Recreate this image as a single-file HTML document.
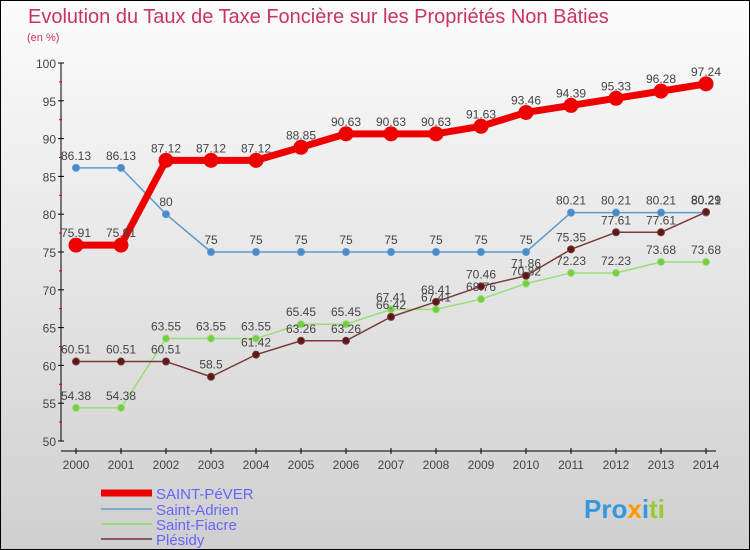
<!DOCTYPE html>
<html><head><meta charset="utf-8"><style>
body{margin:0;}
#c{width:750px;height:550px;position:relative;background:linear-gradient(#fcfcfc,#cfcfcf);border:1px solid #000;box-sizing:border-box;font-family:"Liberation Sans",sans-serif;overflow:hidden}
svg text{font-family:"Liberation Sans",sans-serif}
</style></head><body>
<div id="c">
<svg id="s" width="750" height="550">
<text x="27" y="22" font-size="20" fill="#c8336a">Evolution du Taux de Taxe Foncière sur les Propriétés Non Bâties</text>
<text x="26" y="40" font-size="11" fill="#c8336a">(en %)</text>
<g id="ax"></g><g id="ser"></g>
<g>
<line x1="100" y1="492" x2="151" y2="492" stroke="#e00" stroke-width="7"/>
<text x="155" y="498" font-size="15" fill="#6666ff">SAINT-PéVER</text>
<line x1="100" y1="508" x2="151" y2="508" stroke="#7aaad0" stroke-width="2"/>
<text x="155" y="514" font-size="15" fill="#6666ff">Saint-Adrien</text>
<line x1="100" y1="523" x2="151" y2="523" stroke="#99dd77" stroke-width="2"/>
<text x="155" y="529" font-size="15" fill="#6666ff">Saint-Fiacre</text>
<line x1="100" y1="538" x2="151" y2="538" stroke="#8a5a5a" stroke-width="2"/>
<text x="155" y="544" font-size="15" fill="#6666ff">Plésidy</text>
</g>
<text x="583" y="517" font-size="26" font-weight="bold" fill="#3399dd">Pro<tspan fill="#ff9900">x</tspan>i<tspan fill="#99cc33">ti</tspan></text>
</svg></div>
<script>
const years=[2000,2001,2002,2003,2004,2005,2006,2007,2008,2009,2010,2011,2012,2013,2014];
const yTicks=[50,55,60,65,70,75,80,85,90,95,100];
const pever=[75.91,75.91,87.12,87.12,87.12,88.85,90.63,90.63,90.63,91.63,93.46,94.39,95.33,96.28,97.24];
const adrien=[86.13,86.13,80,75,75,75,75,75,75,75,75,80.21,80.21,80.21,80.21];
const fiacre=[54.38,54.38,63.55,63.55,63.55,65.45,65.45,67.41,67.41,68.76,70.82,72.23,72.23,73.68,73.68];
const plesidy=[60.51,60.51,60.51,58.5,61.42,63.26,63.26,66.42,68.41,70.46,71.86,75.35,77.61,77.61,80.29];
const NS='http://www.w3.org/2000/svg';
const X=i=>75+i*45, Y=v=>440-(v-50)*7.56;
function mk(t,a,p){const e=document.createElementNS(NS,t);for(const k in a)e.setAttribute(k,a[k]);p.appendChild(e);return e;}
const ax=document.getElementById('ax'),ser=document.getElementById('ser');
let l=mk('line',{x1:60,y1:Y(100),x2:60,y2:Y(50),stroke:'#000'},ax);


l=mk('line',{x1:60,y1:450,x2:715,y2:450,stroke:'#000'},ax);


yTicks.forEach(v=>{mk('line',{x1:57,y1:Y(v),x2:63,y2:Y(v),stroke:'#000'},ax);
 if(v<100)mk('line',{x1:58,y1:Y(v+2.5),x2:61,y2:Y(v+2.5),stroke:'#d00'},ax);
 const t=mk('text',{x:55,y:Y(v)+5,'text-anchor':'end','font-size':12,fill:'#444'},ax);t.textContent=v;
 
 });
years.forEach((y,i)=>{mk('line',{x1:X(i),y1:447,x2:X(i),y2:453,stroke:'#000'},ax);
 const t=mk('text',{x:X(i),y:468,'text-anchor':'middle','font-size':12,fill:'#444'},ax);t.textContent=y;
 
 });
function series(d,col,w,r,name,dot){
 const g=mk('g',{},ser);
 
 
 const p=mk('polyline',{points:d.map((v,i)=>X(i)+','+Y(v)).join(' '),fill:'none',stroke:col,'stroke-width':w,'stroke-linejoin':'round'},g);
 
 
 d.forEach((v,i)=>{const c=mk('circle',{cx:X(i),cy:Y(v),r:r,fill:dot,stroke:col},g);
  
  
  const t=mk('text',{x:X(i),y:Y(v)-8,'text-anchor':'middle','font-size':12,fill:'#444'},g);t.textContent=v;
  
  });
}
series(adrien,'#5b9bd0',1.5,3.5,'saint-adrien','#4a8ac8');
series(fiacre,'#99dd77',1.5,3.5,'saint-fiacre','#77cc44');
series(plesidy,'#7a3a3a',1.5,3.5,'plesidy','#5a1a1a');
series(pever,'#ee0000',7,7,'saint-pever','#ee0000');
</script></body></html>
